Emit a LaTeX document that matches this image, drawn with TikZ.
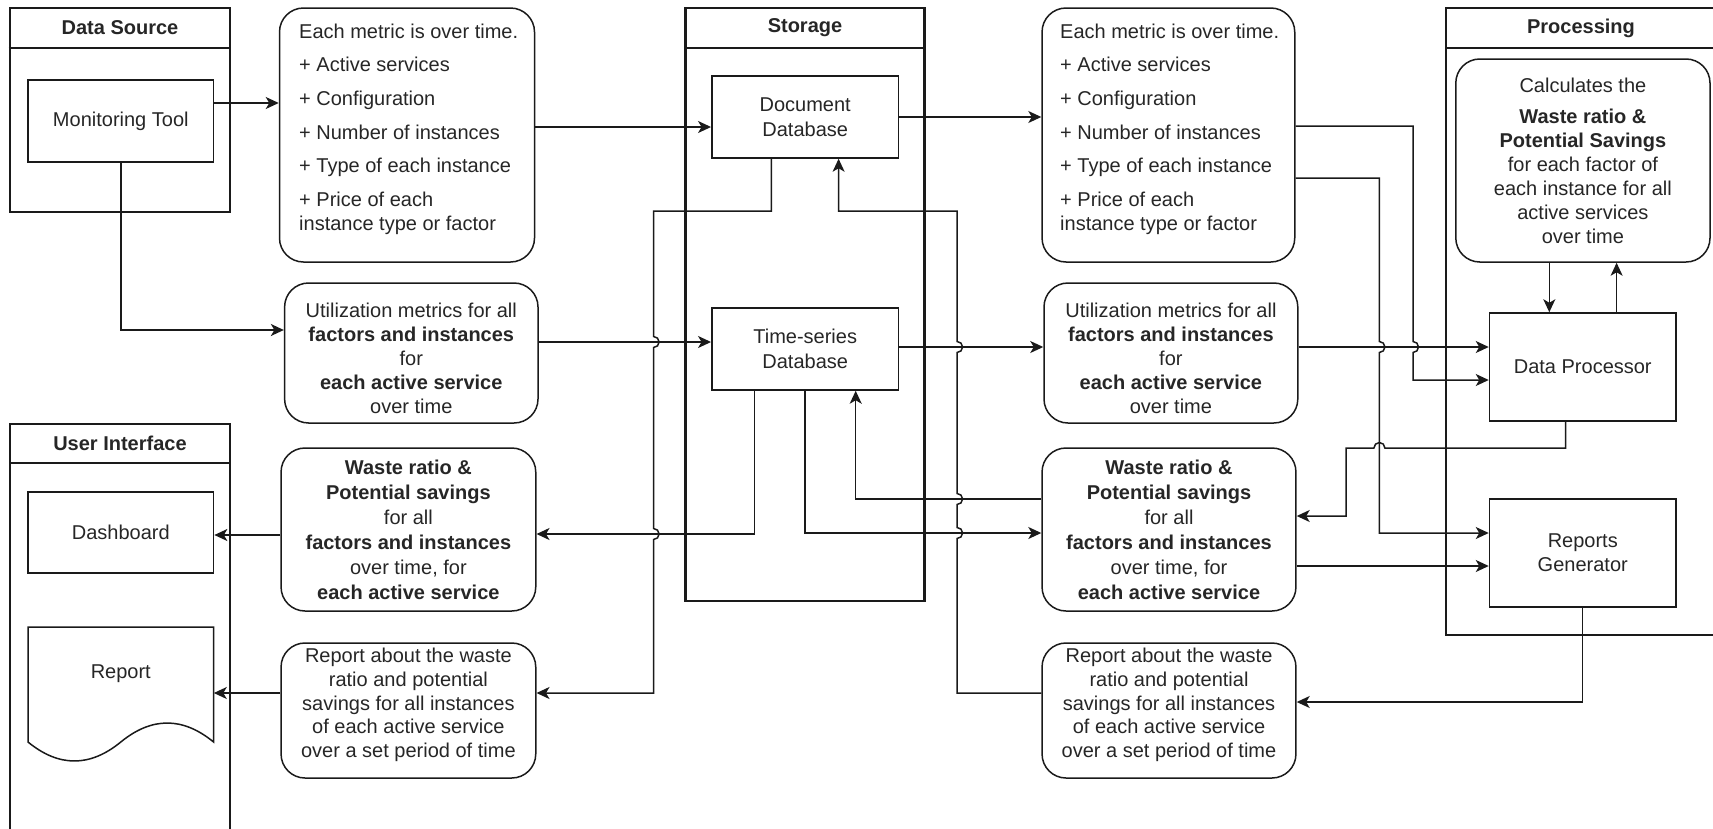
\documentclass[tikz,border=0pt]{standalone}
\usepackage{fontspec}
\setmainfont{Liberation Sans}
\usetikzlibrary{arrows.meta}
\definecolor{lc}{HTML}{1A1A1A}
\definecolor{txt}{HTML}{262626}
\begin{document}
\begin{tikzpicture}[x=1pt,y=-1pt,
  every node/.style={font=\fontsize{20}{24}\selectfont, text=txt},
  bx/.style 2 args={draw=lc, line width=1.5pt, minimum width=#1, minimum height=#2, inner sep=0pt, align=center},
  rbx/.style 2 args={bx={#1}{#2}, rounded corners=24pt},
  tx/.style={inner sep=0pt, align=center},
  cont/.style={draw=lc, line width=2.8pt},
  hdr/.style={font=\fontsize{20}{24}\selectfont\bfseries},
  wire/.style={draw=lc, line width=1.5pt},
  arr/.style={wire, -{Stealth[length=13pt,width=12pt,inset=3.5pt]}},
  jr/.style={radius=5.5pt}
]
\useasboundingbox (0,0) rectangle (1713,828);

% ---------- containers ----------
\node[cont, minimum width=220pt, minimum height=204pt, inner sep=0pt] (ds) at (120,110) {};
\draw[cont] (ds.west |- 0,48) -- (ds.east |- 0,48);
\node[hdr] (dsh) at (120,28) {Data Source};

\node[cont, minimum width=238.6pt, minimum height=593pt, inner sep=0pt] (st) at (805,304.5) {};
\draw[cont] (st.west |- 0,48) -- (st.east |- 0,48);
\node[hdr] (sth) at (805,28) {Storage};

\draw[cont] (1713,8) -- (1446,8) -- (1446,635) -- (1713,635);
\draw[cont] (1446,48) -- (1713,48);
\node[hdr] (prh) at (1581,28) {Processing};

\draw[cont] (10,830) -- (10,424) -- (230,424) -- (230,830);
\draw[cont] (10,463) -- (230,463);
\node[hdr] (uih) at (120,443) {User Interface};

% ---------- nodes ----------
\node[bx={185.6pt}{82pt}] (mt) at (120.8,121) {Monitoring Tool};

\node[rbx={255pt}{254pt}] (m1) at (407,135) {};
\node[anchor=north west, align=left, inner sep=0pt] (m1t) at (299,23.5)
  {Each metric is over time.\\[9.7pt] + Active services\\[9.7pt] + Configuration\\[9.7pt]
   + Number of instances\\[9.7pt] + Type of each instance\\[9.7pt] + Price of each\\ instance type or factor};

\node[rbx={253.4pt}{140pt}] (u1) at (411.3,353) {};
\node[tx] (u1t) at (411.3,358)
  {Utilization metrics for all\\\textbf{factors and instances}\\for\\\textbf{each active service}\\over time};

\node[rbx={254.7pt}{163pt}, font=\fontsize{20}{25}\selectfont] (w1) at (408.4,529.5)
  {\textbf{Waste ratio \&}\\\textbf{Potential savings}\\for all\\\textbf{factors and instances}\\over time, for\\\textbf{each active service}};

\node[rbx={254.7pt}{135pt}] (r1) at (408.4,710.5) {};
\node[tx, font=\fontsize{20}{23.8}\selectfont] (r1t) at (408.4,705)
  {Report about the waste\\ratio and potential\\savings for all instances\\of each active service\\over a set period of time};

\node[bx={186.8pt}{82pt}, font=\fontsize{20}{25}\selectfont] (dd) at (805.2,117) {Document\\Database};
\node[bx={186.8pt}{82pt}, font=\fontsize{20}{25}\selectfont] (ts) at (805.2,349) {Time-series\\Database};

\node[rbx={252.7pt}{254pt}] (m2) at (1168.4,135) {};
\node[anchor=north west, align=left, inner sep=0pt] (m2t) at (1060,23.5)
  {Each metric is over time.\\[9.7pt] + Active services\\[9.7pt] + Configuration\\[9.7pt]
   + Number of instances\\[9.7pt] + Type of each instance\\[9.7pt] + Price of each\\ instance type or factor};

\node[rbx={253.8pt}{140pt}] (u2) at (1170.9,353) {};
\node[tx] (u2t) at (1170.9,358)
  {Utilization metrics for all\\\textbf{factors and instances}\\for\\\textbf{each active service}\\over time};

\node[rbx={253.9pt}{163pt}, font=\fontsize{20}{25}\selectfont] (w2) at (1169,529.5)
  {\textbf{Waste ratio \&}\\\textbf{Potential savings}\\for all\\\textbf{factors and instances}\\over time, for\\\textbf{each active service}};

\node[rbx={253.9pt}{135pt}] (r2) at (1169,710.5) {};
\node[tx, font=\fontsize{20}{23.8}\selectfont] (r2t) at (1169,705)
  {Report about the waste\\ratio and potential\\savings for all instances\\of each active service\\over a set period of time};

\node[rbx={254.2pt}{203pt}] (calc) at (1582.9,160.5)
  {Calculates the\\[7pt]\textbf{Waste ratio \&}\\\textbf{Potential Savings}\\for each factor of\\each instance for all\\active services\\over time};

\node[bx={186.5pt}{108pt}] (dp) at (1582.75,367) {Data Processor};
\node[bx={186.5pt}{108pt}] (rg) at (1582.75,553) {Reports\\Generator};

\node[bx={185.6pt}{81pt}] (db) at (120.8,532.5) {Dashboard};

\draw[wire] (28,627) -- (213.6,627) -- (213.6,742)
  .. controls (182.7,716.7) and (151.7,716.7) .. (120.8,742)
  .. controls (89.9,767.3) and (58.9,767.3) .. (28,742) -- cycle;
\node[minimum width=185.6pt, inner sep=0pt] (rep) at (120.8,674) {Report};

% ---------- connectors ----------
\draw[arr] (mt.east |- 0,103) -- (m1.west |- 0,103);
\draw[arr] (mt.south) -- (mt.south |- 0,330) -- (u1.west |- 0,330);
\draw[arr] (m1.east |- 0,127) -- (dd.west |- 0,127);
\draw[arr] (u1.east |- 0,342) -- (ts.west |- 0,342);
\draw[arr] (dd.east |- 0,117) -- (m2.west |- 0,117);
\draw[arr] (ts.east |- 0,347) -- (u2.west |- 0,347);

\draw[arr] (dd.south -| 771.4,0) -- (771.4,211) -- (653.6,211)
  -- (653.6,336.5) arc[start angle=90,end angle=-90,jr]
  -- (653.6,528.5) arc[start angle=90,end angle=-90,jr]
  -- (653.6,693) -- (r1.east |- 0,693);

\draw[arr] (ts.south -| 754.6,0) -- (754.6,534) -- (w1.east |- 0,534);
\draw[arr] (ts.south -| 805,0) -- (805,533) -- (w2.west |- 0,533);
\draw[arr] (w2.west |- 0,499) -- (855.7,499) -- (ts.south -| 855.7,0);

\draw[arr] (r2.west |- 0,693) -- (957.1,693)
  -- (957.1,538.5) arc[start angle=-90,end angle=90,jr]
  -- (957.1,504.5) arc[start angle=-90,end angle=90,jr]
  -- (957.1,352.5) arc[start angle=-90,end angle=90,jr]
  -- (957.1,211) -- (838.6,211) -- (dd.south -| 838.6,0);

\draw[arr] (w1.west |- 0,535) -- (db.east |- 0,535);
\draw[arr] (r1.west |- 0,693) -- (rep.east |- 0,693);

\draw[arr] (m2.east |- 0,126) -- (1413,126)
  -- (1413,341.5) arc[start angle=90,end angle=-90,jr]
  -- (1413,380) -- (dp.west |- 0,380);
\draw[arr] (m2.east |- 0,178) -- (1379.4,178)
  -- (1379.4,341.5) arc[start angle=90,end angle=-90,jr]
  -- (1379.4,533) -- (rg.west |- 0,533);
\draw[arr] (u2.east |- 0,347) -- (dp.west |- 0,347);

\draw[arr] (dp.south -| 1565.5,0) -- (1565.5,448) -- (1384.9,448)
  arc[start angle=0,end angle=180,jr]
  -- (1346.2,448) -- (1346.2,516) -- (w2.east |- 0,516);
\draw[arr] (w2.east |- 0,566) -- (rg.west |- 0,566);
\draw[arr] (rg.south -| 1582.5,0) -- (1582.5,702) -- (r2.east |- 0,702);

\draw[arr] (calc.south -| 1549.3,0) -- (dp.north -| 1549.3,0);
\draw[arr] (dp.north -| 1616.6,0) -- (calc.south -| 1616.6,0);
\end{tikzpicture}
\end{document}
